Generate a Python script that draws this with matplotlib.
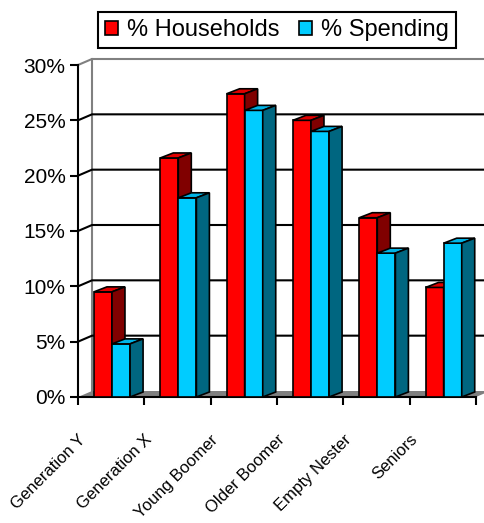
import matplotlib.pyplot as plt
import matplotlib.transforms as mtransforms
from matplotlib.patches import Polygon, Patch

categories = ["Generation Y", "Generation X", "Young Boomer", "Older Boomer", "Empty Nester", "Seniors"]
households = [9.5, 21.6, 27.4, 25.0, 16.2, 9.9]
spending = [4.8, 18.0, 25.9, 24.0, 13.0, 13.9]
yticks = [0, 5, 10, 15, 20, 25, 30]
ytick_labels = ["0%", "5%", "10%", "15%", "20%", "25%", "30%"]
series_names = ["% Households", "% Spending"]

# colours: front, top, side
red = ("#FF0000", "#E00000", "#800000")
cyan = ("#00CCFF", "#00B4E6", "#006680")

W, H = 485, 523
fig = plt.figure(figsize=(W / 100, H / 100), dpi=100)

# front plane: category 0..6 -> px 78..476, percent 0..30 -> px 397..65
px_cat = 398 / 6
px_pct = 332 / 30
ax = fig.add_axes([78 / W, (H - 397) / H, (W - 78) / W, (397 - 48) / H])
ax.patch.set_visible(False)
xmax = (W - 78) / px_cat
ax.set_xlim(0, xmax)
ax.set_ylim(0, (397 - 48) / px_pct)

ncat = len(categories)
dxw, dyw = 14 / px_cat, 6 / px_pct   # wall depth
dxb, dyb = 13 / px_cat, 5 / px_pct   # bar depth
bw = 0.272

# floor
ax.add_patch(Polygon([(0, 0), (ncat, 0), (ncat + dxw, dyw), (dxw, dyw)],
                     closed=True, fc="#808080", ec="none", zorder=1))
# back wall grid + left wall diagonals
for v in yticks[1:]:
    c = "#808080" if v == yticks[-1] else "black"
    ax.plot([0, dxw, xmax], [v, v + dyw, v + dyw], color=c, lw=1.5,
            zorder=1.5, clip_on=False, solid_capstyle="butt")
ax.plot([dxw, dxw], [dyw, yticks[-1] + dyw], color="#808080", lw=1.5, zorder=1.4)


def bar3d(x, h, cols, z):
    ax.bar(x, h, width=bw, align="edge", color=cols[0], edgecolor="black",
           linewidth=1.2, zorder=z)
    top = [(x, h), (x + bw, h), (x + bw + dxb, h + dyb), (x + dxb, h + dyb)]
    side = [(x + bw, 0), (x + bw + dxb, dyb), (x + bw + dxb, h + dyb), (x + bw, h)]
    ax.add_patch(Polygon(top, closed=True, fc=cols[1], ec="black", lw=1.2, zorder=z + 0.5))
    ax.add_patch(Polygon(side, closed=True, fc=cols[2], ec="black", lw=1.2, zorder=z + 0.5))


for i in range(ncat):
    bar3d(i + 0.24, households[i], red, 3)
    bar3d(i + 0.513, spending[i], cyan, 4)

# axes
for s in ["top", "right"]:
    ax.spines[s].set_visible(False)
ax.spines["left"].set_bounds(0, yticks[-1])
ax.spines["bottom"].set_bounds(0, ncat)
ax.spines["left"].set_linewidth(1.5)
ax.spines["bottom"].set_linewidth(1.5)
ax.spines["bottom"].set_zorder(2)

ax.set_yticks(yticks)
ax.set_yticklabels(ytick_labels, fontsize=15, family="Liberation Sans")
ax.tick_params(axis="y", length=6, width=1.5, pad=3, direction="out")

ax.set_xticks(range(ncat + 1))
ax.set_xticklabels([])
ax.tick_params(axis="x", which="major", length=6, width=1.5, direction="out")

# rotated category labels
shift = mtransforms.ScaledTranslation(-33 / 100, -35 / 100, fig.dpi_scale_trans)
for i, name in enumerate(categories):
    ax.text(i + 0.5, 0, name, transform=ax.transData + shift, rotation=45,
            rotation_mode="anchor", ha="right", va="top", fontsize=12,
            family="Liberation Sans")

handles = [Patch(fc=red[0], ec="black", lw=1.2), Patch(fc=cyan[0], ec="black", lw=1.2)]
leg = fig.legend(handles, series_names, loc="upper center", ncol=2,
                 bbox_to_anchor=(277 / W, 1 - 12 / H),
                 prop={"family": "Liberation Sans", "size": 17},
                 frameon=True, fancybox=False, edgecolor="black", framealpha=1,
                 handlelength=0.55, handleheight=0.55, handletextpad=0.4,
                 columnspacing=0.8, borderpad=0.3, borderaxespad=0)
leg.get_frame().set_linewidth(1.5)

fig.savefig("out.png", dpi=100)
